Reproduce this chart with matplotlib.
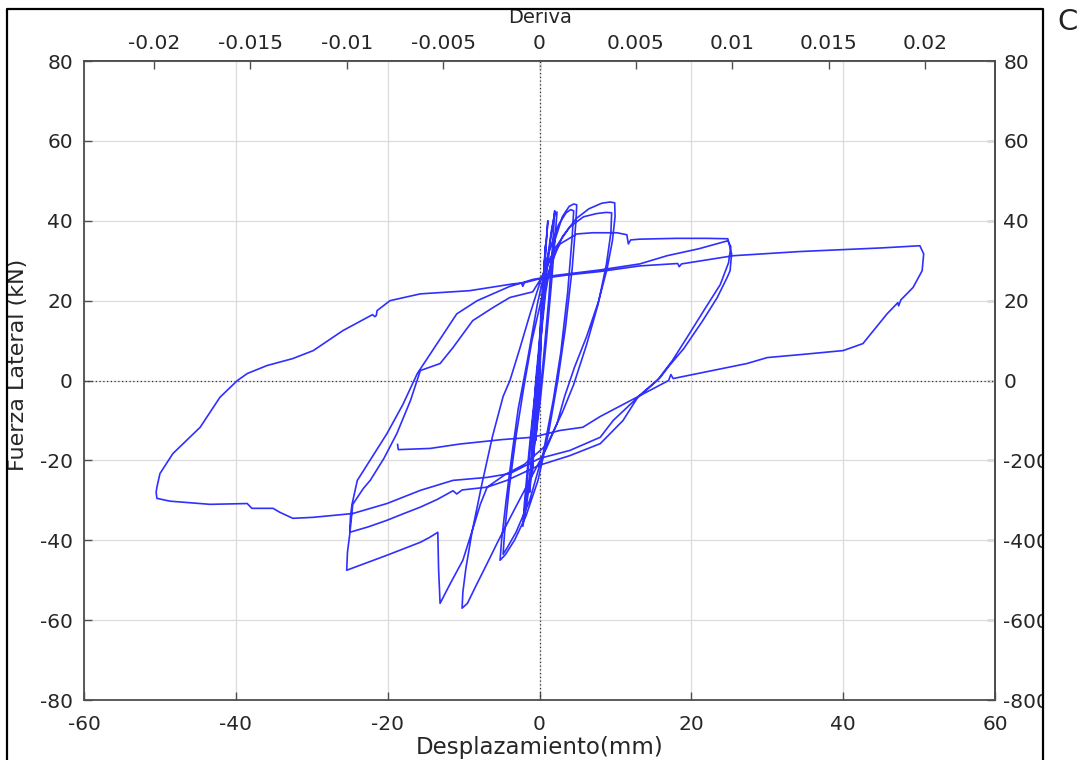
import numpy as np
import matplotlib
matplotlib.use("Agg")
import matplotlib.pyplot as plt
from matplotlib.lines import Line2D
from matplotlib.patches import Rectangle

plt.rcParams["font.family"] = ["DejaVu Sans"]
plt.rcParams["axes.unicode_minus"] = False

# ---- Hysteresis record (displacement in mm, lateral force in kN) ----
desp_ciclos_1mm = [0.0, 0.2, 0.4, 0.3, 0.0, -0.3, -0.5, -0.4, -0.1, 0.3, 0.6, 0.8, 0.6, 0.1,
                   -0.4, -0.8, -1.0, -0.8, -0.3, 0.3, 0.8, 1.1, 0.9, 0.3, -0.4, -1.0, -1.3, -1.1, -0.5]
fuerza_ciclos_1mm = [0, 10, 18, 15, 2, -10, -15, -11, 0, 16, 28, 34, 29, 12,
                     -8, -19, -24, -18, 0, 20, 33, 40, 35, 15, -8, -22, -28, -20, 0]

desp_ciclos_2mm = [-0.5, 0.2, 1.0, 1.6, 2.0, 2.3, 2.1, 1.6, 0.9, 0.1, -0.9, -1.7, -2.2, -2.0, -1.4,
                   -0.7, 0.1, 0.9, 1.5, 1.9, 2.0, 1.8, 1.2, 0.4, -0.6, -1.5, -2.0, -1.7, -1.0]
fuerza_ciclos_2mm = [0, 14, 30, 38, 41.5, 42.2, 37, 25, 10, -5, -20, -31, -36.5, -31, -18,
                     -5, 10, 26, 36, 41, 42.5, 36, 20, 3, -14, -27, -33, -27, -12]

desp_ciclos_5mm = [-1.0, -0.3, 0.8, 2.0, 3.0, 3.9, 4.5, 4.9, 4.8, 4.3, 3.4, 2.4, 1.2, -0.2, -1.8,
                   -3.3, -4.5, -5.2, -5.0, -4.4, -3.6, -2.8, -1.6, -0.3, 1.2, 2.5, 3.5, 4.1, 4.5,
                   4.3, 3.7, 2.8, 1.8, 0.5, -1.3, -3.1, -4.3, -4.8, -4.6, -4.0, -3.1, -2.1, -1.0, 0.2]
fuerza_ciclos_5mm = [-12, 2, 22, 35, 41, 43.6, 44.2, 44.0, 40, 28, 13, 0, -13, -25, -34,
                     -40, -43.6, -45, -40, -30, -18, -7, 5, 19, 32, 39, 42, 42.8, 42.5,
                     36, 22, 7, -5, -18, -30, -38, -42, -43.5, -38, -27, -14, -2, 10, 20]

desp_ciclos_10mm = [0.2, 1.5, 3.0, 4.8, 6.5, 8.2, 9.3, 9.9, 9.95, 9.6, 8.9, 7.8, 6.2, 4.6, 3.3,
                    2.3, 0.9, -1.3, -3.5, -5.4, -6.9, -8.4, -9.5, -10.2, -10.1, -9.7, -8.9, -7.6,
                    -6.2, -4.8, -3.9, -2.6, -1.2, 0.3, 2.0, 4.0, 5.8, 7.5, 8.8, 9.5, 9.4, 8.8,
                    7.7, 6.2, 4.5, 3.0, 1.0, -2.0, -4.5, -6.9, -7.8, -8.6, -10.1, -11.8, -13.1]
fuerza_ciclos_10mm = [20, 29, 36, 40.5, 43, 44.4, 44.7, 44.5, 41, 35, 28, 20, 11, 3.3, -4,
                      -10.8, -17, -25, -33, -40, -45.8, -51.5, -55.8, -57, -53, -47, -38, -26,
                      -14, -4, 0, 8, 17, 26, 33, 38.5, 41, 41.8, 42.1, 42, 37, 29,
                      19, 9, -1, -8, -16, -21, -23.5, -26.7, -31, -36, -45, -51, -55.8]

desp_ciclos_25mm = [-13.1, -13.3, -13.4, -14.5, -15.7, -18.0, -20.1, -23.0, -25.4, -25.3, -25.0,
                    -24.6, -23.2, -22.3, -20.5, -18.8, -17.0, -15.7, -13.1, -11.4, -8.8, -6.1,
                    -3.9, -0.9, 0.5, 1.6, 2.7, 4.9, 7.0, 10.2, 11.5, 11.7, 12.0, 13.2, 18.0,
                    22.0, 24.8, 25.3, 25.1, 24.7, 23.4, 21.5, 19.0, 17.0, 15.9, 13.0, 11.0,
                    8.0, 4.0, 0.0, -4.3, -6.9, -10.2, -10.9, -11.4, -13.5, -15.7, -18.0, -20.1,
                    -22.5, -25.0, -24.9, -24.7, -24.0, -22.0, -20.1, -18.0, -16.1, -14.8, -13.5,
                    -10.9, -8.2, -4.0, -0.9, 2.0, 5.0, 8.0, 13.2, 16.8, 21.0, 24.8, 25.2, 24.9,
                    23.8, 21.8, 19.5, 17.5, 15.5, 12.5, 9.7, 8.0, 4.0, 0.0, -3.9]
fuerza_ciclos_25mm = [-55.8, -47, -38, -39.3, -40.5, -42.2, -43.75, -45.8, -47.5, -43, -38.5,
                      -31, -27, -25, -19.5, -13.3, -5, 2.5, 4.25, 8.25, 15, 18.3,
                      20.8, 22.2, 26.5, 31, 34.2, 36.7, 37, 37, 36.5, 34.2, 35.2, 35.4, 35.6,
                      35.6, 35.5, 31.75, 27.5, 25.75, 20.75, 15, 8, 3.5, 0.75, -4, -10,
                      -15.8, -18.8, -21.2, -25, -26.7, -27.4, -28.4, -27.6, -29.8, -31.7, -33.4, -35,
                      -36.6, -38, -34, -31, -25, -19, -13.3, -6, 1.75, 5.5, 9.25,
                      16.7, 20, 23.5, 25.3, 26.3, 27.0, 27.7, 29.2, 31.25, 33.0, 35.0, 33.5, 29.5,
                      24, 18, 11, 5, 0, -5, -10, -14.2, -17.5, -19.5, -23.3]

desp_ciclo_50mm = [-3.9, -6.9, -11.4, -15.7, -20.1, -24.6, -29.8, -32.5, -34.2, -35.1, -37.9,
                   -38.5, -43.4, -48.7, -50.4, -50.5, -50.4, -50.0, -48.3, -44.7, -42.1, -39.8,
                   -38.5, -35.9, -32.5, -29.8, -25.9, -22.0, -21.7, -21.5, -21.4, -19.7, -15.7,
                   -9.2, -3.5, -2.4, -2.2, -2.0, 0.06, 4.0, 8.0, 13.2, 18.2, 18.4, 18.7, 25.5,
                   34.3, 39.2, 45.0, 50.1, 50.6, 50.4, 49.2, 47.6, 47.3, 47.2, 45.8, 42.6, 40.0,
                   35.0, 30.0, 27.3, 22.0, 17.6, 17.3, 17.0, 12.0, 8.0, 5.7, 2.7, -0.9, -5.0,
                   -10.5, -14.4, -18.6, -18.7]
fuerza_ciclo_50mm = [-23.3, -24.25, -25, -27.5, -30.8, -33.3, -34.25, -34.5, -33, -32, -32,
                     -30.8, -31, -30.2, -29.5, -28, -26.7, -23.3, -18.3, -11.7, -4.2, 0,
                     1.75, 3.75, 5.5, 7.5, 12.5, 16.5, 16.0, 16.3, 17.5, 20, 21.7,
                     22.5, 24.2, 24.4, 23.6, 24.5, 25.5, 26.5, 27.3, 28.7, 29.3, 28.5, 29.2, 31.25,
                     32.3, 32.7, 33.2, 33.75, 31.7, 27.5, 23.3, 20.2, 18.7, 19.5, 16.75, 9.25, 7.5,
                     6.6, 5.75, 4.25, 2.2, 0.5, 1.5, 0, -5, -9, -11.7, -12.5, -14.2, -14.8,
                     -15.9, -17, -17.3, -16.0]

x_ticks = [-60, -40, -20, 0, 20, 40, 60]
y_ticks = [-80, -60, -40, -20, 0, 20, 40, 60, 80]
y_ticklabels_right = ["-800", "-600", "-400", "-200", "0", "20", "40", "60", "80"]
deriva_ticks = [-0.02, -0.015, -0.01, -0.005, 0, 0.005, 0.01, 0.015, 0.02]
deriva_ticklabels = ["-0.02", "-0.015", "-0.01", "-0.005", "0", "0.005", "0.01", "0.015", "0.02"]
altura_mm = 2540.0

desp = np.concatenate([desp_ciclos_1mm, desp_ciclos_2mm, desp_ciclos_5mm,
                       desp_ciclos_10mm, desp_ciclos_25mm, desp_ciclo_50mm])
fuerza = np.concatenate([fuerza_ciclos_1mm, fuerza_ciclos_2mm, fuerza_ciclos_5mm,
                         fuerza_ciclos_10mm, fuerza_ciclos_25mm, fuerza_ciclo_50mm])

text_color = "#262626"
spine_color = "#4d4d4d"
fs_tick = 14.5

fig = plt.figure(figsize=(10.87, 7.6), dpi=100)
ax = fig.add_axes([0.0773, 0.0789, 0.8381, 0.8408])

ax.plot(desp, fuerza, color="#2f2fff", lw=1.2, zorder=3, solid_joinstyle="round")
ax.axhline(0, color="#333333", lw=0.9, ls=(0, (1, 2)), zorder=2)
ax.axvline(0, color="#333333", lw=0.9, ls=(0, (1, 2)), zorder=2)

ax.set_xlim(-60, 60)
ax.set_ylim(-80, 80)
ax.set_xticks(x_ticks)
ax.set_yticks(y_ticks)
ax.grid(True, color="#dcdcdc", lw=0.9, zorder=0)
ax.set_axisbelow(True)
for s in ax.spines.values():
    s.set_color(spine_color)
    s.set_linewidth(1.3)
ax.tick_params(direction="in", length=6, width=1, color=spine_color,
               labelsize=fs_tick, labelcolor=text_color)
ax.tick_params(axis="y", pad=8)
ax.tick_params(axis="x", pad=11)

ax.set_xlabel("Desplazamiento(mm)", fontsize=16.5, color=text_color)
ax.xaxis.set_label_coords(0.5006, -0.056)
ax.set_ylabel("Fuerza Lateral (kN)", fontsize=16, color=text_color)
ax.yaxis.set_label_coords(-0.061, 0.524)

# drift axis on top: drift = displacement / height
top = ax.secondary_xaxis("top", functions=(lambda d: d / altura_mm, lambda r: r * altura_mm))
top.set_xticks(deriva_ticks)
top.set_xticklabels(deriva_ticklabels)
top.tick_params(direction="in", length=6, width=1, color=spine_color,
                labelsize=fs_tick, labelcolor=text_color, pad=6)
top.spines["top"].set_color(spine_color)
top.spines["top"].set_linewidth(1.3)
top.set_xlabel("Deriva", fontsize=14, color=text_color)
top.xaxis.label.set_verticalalignment("center")
top.xaxis.set_label_coords(0.4966, 0.9775, transform=fig.transFigure)

right = ax.secondary_yaxis("right")
right.set_yticks(y_ticks)
right.set_yticklabels(y_ticklabels_right)
right.tick_params(direction="in", length=6, width=1, color=spine_color,
                  labelsize=fs_tick, labelcolor=text_color, pad=6)
right.spines["right"].set_color(spine_color)
right.spines["right"].set_linewidth(1.3)

# page margin mask and outer border
fig.patches.append(Rectangle((0.9604, 0.0), 0.05, 0.94, transform=fig.transFigure,
                             facecolor="white", edgecolor="none", zorder=20))
xl, xr, yt = 0.0064, 0.9595, 0.988
fig.lines.append(Line2D([xl, xl, xr, xr], [-0.01, yt, yt, -0.01], transform=fig.transFigure,
                        color="black", lw=1.6, zorder=21))
fig.text(0.9825, 0.971, "C", fontsize=21, color="#222222", ha="center", va="center", zorder=22)

fig.savefig("out.png", dpi=100)
